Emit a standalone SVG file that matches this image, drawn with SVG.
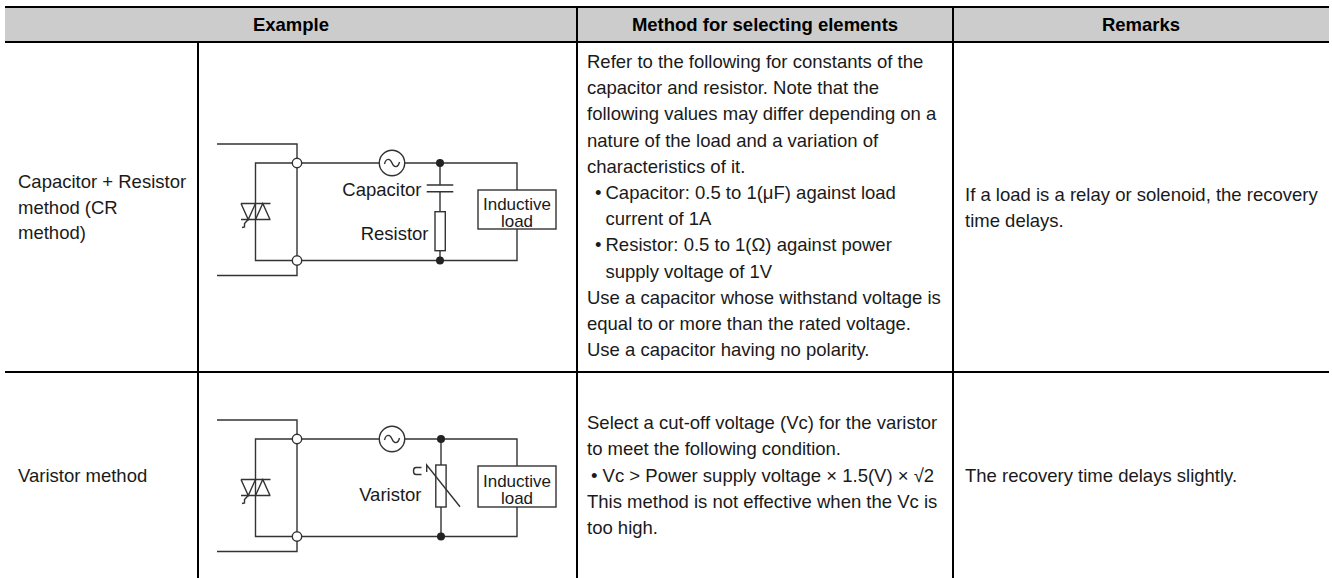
<svg xmlns="http://www.w3.org/2000/svg" width="1332" height="578" viewBox="0 0 1332 578">
<defs>
<style>
.tl{stroke:#000;stroke-width:2;fill:none}
.w{stroke:#333;stroke-width:1.4;fill:none}
.wf{stroke:#333;stroke-width:1.4;fill:#fff}
.dot{fill:#222;stroke:none}
.t{font-family:"Liberation Sans",Arial,Helvetica,sans-serif;font-size:18.5px;fill:#1a1a1a}
.h{font-weight:bold;text-anchor:middle;fill:#000}
.e{text-anchor:end}
.m{text-anchor:middle;font-size:17px}
</style>
<g id="triac">
<path class="w" d="M241,203.5 H270.5 M241,219.5 H270.5 M241,203.5 L248.25,219.5 L255.5,203.5 M255.5,219.5 L262.75,203.5 L270,219.5 M248.25,219.5 L244.5,223.5 L244.5,227 L242,227.5"/>
</g>
<g id="src">
<circle class="wf" cx="392" cy="163" r="12.7"/>
<path class="w" d="M384.5,164 C386,158 390,158 392,163 C394,168 398,168 399.5,162"/>
</g>
</defs>

<g id="table">
<rect x="5" y="7" width="1324" height="35" fill="#cccccc"/>
<path class="tl" d="M5,7 H1329" stroke-width="2.5"/>
<path class="tl" d="M5,42 H1329 M5,372 H1329 M577,7 V578 M953,7 V578 M198,42 V578"/>
</g>

<g id="header">
<text class="t h" x="291" y="31">Example</text>
<text class="t h" x="765" y="31">Method for selecting elements</text>
<text class="t h" x="1141" y="31">Remarks</text>
</g>

<g id="row1-name">
<text class="t" x="18" y="188">Capacitor + Resistor</text>
<text class="t" x="18" y="213.5">method (CR</text>
<text class="t" x="18" y="239">method)</text>
</g>

<g id="row1-circuit">
<path class="w" d="M217,144 H297 V275.5 H217"/>
<path class="w" d="M379.3,163 H255.5 V260.5 H517 V229 M404.7,163 H517 V190"/>
<use href="#triac"/>
<use href="#src"/>
<circle class="wf" cx="297" cy="163" r="4.7"/>
<circle class="wf" cx="297" cy="260.5" r="4.7"/>
<path class="w" d="M440,163 V185 M426.7,185 H453.3 M426.7,191.7 H453.3 M440,191.7 V211.7 M440,250.7 V260.5"/>
<rect class="w" x="435" y="211.7" width="10.3" height="39"/>
<circle class="dot" cx="440" cy="163" r="4"/>
<circle class="dot" cx="440" cy="260.5" r="4"/>
<rect class="w" x="478" y="190" width="78" height="39"/>
<text class="t m" x="517" y="209.5">Inductive</text>
<text class="t m" x="517" y="226.5">load</text>
<text class="t e" x="421.5" y="195.5">Capacitor</text>
<text class="t e" x="428.5" y="239.5">Resistor</text>
</g>

<g id="row1-method">
<text class="t" x="587" y="68">Refer to the following for constants of the</text>
<text class="t" x="587" y="94.2">capacitor and resistor. Note that the</text>
<text class="t" x="587" y="120.4">following values may differ depending on a</text>
<text class="t" x="587" y="146.6">nature of the load and a variation of</text>
<text class="t" x="587" y="172.8">characteristics of it.</text>
<text class="t" x="595" y="199">•</text>
<text class="t" x="605.5" y="199">Capacitor: 0.5 to 1(μF) against load</text>
<text class="t" x="605.5" y="225.2">current of 1A</text>
<text class="t" x="595" y="251.4">•</text>
<text class="t" x="605.5" y="251.4">Resistor: 0.5 to 1(Ω) against power</text>
<text class="t" x="605.5" y="277.6">supply voltage of 1V</text>
<text class="t" x="587" y="303.8">Use a capacitor whose withstand voltage is</text>
<text class="t" x="587" y="330">equal to or more than the rated voltage.</text>
<text class="t" x="587" y="356.2">Use a capacitor having no polarity.</text>
</g>

<g id="row1-remarks">
<text class="t" x="965" y="201">If a load is a relay or solenoid, the recovery</text>
<text class="t" x="965" y="227">time delays.</text>
</g>

<g id="row2-name">
<text class="t" x="18" y="481.5">Varistor method</text>
</g>

<g id="row2-circuit">
<g transform="translate(0,276)">
<path class="w" d="M217,144 H297 V275.5 H217"/>
<path class="w" d="M379.3,163 H255.5 V260.5 H517 V231 M404.7,163 H517 V190"/>
<use href="#triac"/>
<use href="#src"/>
<circle class="wf" cx="297" cy="163" r="4.7"/>
<circle class="wf" cx="297" cy="260.5" r="4.7"/>
<path class="w" d="M441,163 V189 M441,231 V260.5"/>
<rect class="w" x="435.8" y="189" width="10.3" height="42"/>
<path class="w" d="M426.7,196 V189 L460,230.7 M421.5,191.5 H416 Q413.5,191.5 413.5,195 Q413.5,198.5 416,198.5 H421.5"/>
<circle class="dot" cx="441" cy="163" r="4"/>
<circle class="dot" cx="441" cy="260.5" r="4"/>
<rect class="w" x="478" y="190" width="78" height="41"/>
<text class="t m" x="517" y="210.5">Inductive</text>
<text class="t m" x="517" y="227.5">load</text>
<text class="t e" x="421.5" y="225">Varistor</text>
</g>
</g>

<g id="row2-method">
<text class="t" x="587" y="429">Select a cut-off voltage (Vc) for the varistor</text>
<text class="t" x="587" y="455.3">to meet the following condition.</text>
<text class="t" x="591" y="481.5">• Vc &gt; Power supply voltage × 1.5(V) × √2</text>
<text class="t" x="587" y="507.8">This method is not effective when the Vc is</text>
<text class="t" x="587" y="534">too high.</text>
</g>

<g id="row2-remarks">
<text class="t" x="965" y="481.5">The recovery time delays slightly.</text>
</g>
</svg>
